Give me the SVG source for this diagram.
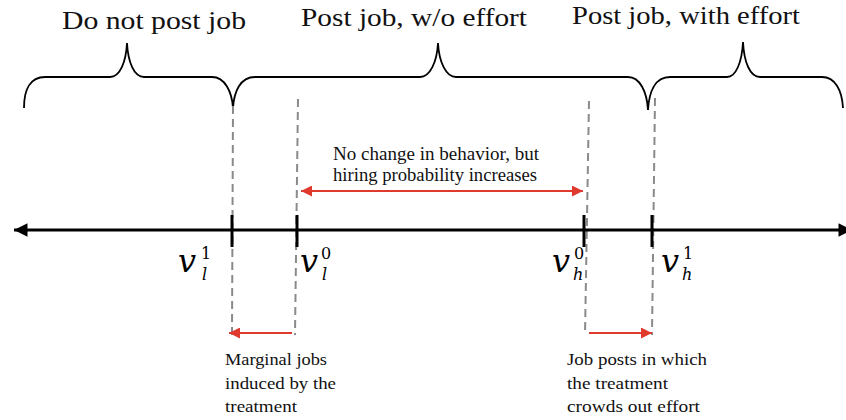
<svg xmlns="http://www.w3.org/2000/svg" width="846" height="420" viewBox="0 0 846 420">
<defs>
<style>
.t{fill:#111}
.hd{font-size:26px}
.sm{font-size:18px}
.bt{font-size:17px}
.m{font-style:italic;fill:#000;font-size:32px}
.up{font-style:normal}
.brace{fill:none;stroke:#000;stroke-width:1.8}
.dash{stroke:#8a8a8a;stroke-width:2;stroke-dasharray:8 5;fill:none}
.tick{stroke:#000;stroke-width:3}
.red{stroke:#e03a2e;stroke-width:2.2;fill:none}
</style>
<marker id="ar" viewBox="0 0 10 10" refX="10" refY="5" markerWidth="5" markerHeight="5" orient="auto-start-reverse" markerUnits="strokeWidth"><path d="M0,0 L10,5 L0,10 z" fill="#e03a2e"/></marker>
<marker id="ak" viewBox="0 0 10 10" refX="10" refY="5" markerWidth="5" markerHeight="4.5" orient="auto-start-reverse" markerUnits="strokeWidth"><path d="M0,0 L10,5 L0,10 z" fill="#000"/></marker>
</defs>

<g id="braces">
<path class="brace" d="M24,108 C24,90 30,77 45,77 L110,77 C120,77 126,62 127,43 C128,62 134,77 144,77 L212,77 C225,77 232,92 233,108"/>
<path class="brace" d="M233,108 C234,92 240,77 255,77 L420,77 C430,77 437,62 438,43 C439,62 446,77 456,77 L628,77 C640,77 647,92 648,110"/>
<path class="brace" d="M648,110 C649,92 655,77 670,77 L727,77 C736,77 742,62 743,42 C744,62 750,77 760,77 L822,77 C835,77 842,90 843,108"/>
</g>

<g id="region-labels" font-family="Liberation Serif, Times New Roman, serif">
<text class="t hd" x="62" y="29" textLength="184" lengthAdjust="spacingAndGlyphs">Do not post job</text>
<text class="t hd" x="301" y="26" textLength="226" lengthAdjust="spacingAndGlyphs">Post job, w/o effort</text>
<text class="t hd" x="572" y="24" textLength="228" lengthAdjust="spacingAndGlyphs">Post job, with effort</text>
</g>

<g id="connectors">
<line class="dash" x1="233" y1="106" x2="232" y2="335"/>
<line class="dash" x1="298" y1="99" x2="295" y2="335"/>
<line class="dash" x1="589" y1="101" x2="585" y2="335"/>
<line class="dash" x1="655" y1="98" x2="652" y2="335"/>
<line x1="14" y1="230" x2="852" y2="230" stroke="#000" stroke-width="3" marker-start="url(#ak)" marker-end="url(#ak)"/>
<line class="red" x1="301" y1="191" x2="583" y2="191" marker-start="url(#ar)" marker-end="url(#ar)"/>
<line class="red" x1="292" y1="333" x2="229" y2="333" marker-end="url(#ar)"/>
<line class="red" x1="589" y1="333" x2="652" y2="333" marker-end="url(#ar)"/>
</g>

<g id="ticks">
<line class="tick" x1="232" y1="215" x2="232" y2="247"/>
<line class="tick" x1="297" y1="215" x2="297" y2="247"/>
<line class="tick" x1="584" y1="215" x2="584" y2="247"/>
<line class="tick" x1="652" y1="215" x2="652" y2="247"/>
</g>

<g id="math-labels" font-family="DejaVu Serif, Liberation Serif, serif">
<g id="v-l-1"><text class="m" x="178" y="272">v<tspan class="up" font-size="16" x="201" y="259">1</tspan><tspan font-size="16" x="202" y="280">l</tspan></text></g>
<g id="v-l-0"><text class="m" x="300" y="272">v<tspan class="up" font-size="16" x="321" y="259">0</tspan><tspan font-size="16" x="322" y="280">l</tspan></text></g>
<g id="v-h-0"><text class="m" x="552" y="272">v<tspan class="up" font-size="16" x="574" y="259">0</tspan><tspan font-size="16" x="573" y="280">h</tspan></text></g>
<g id="v-h-1"><text class="m" x="661" y="272">v<tspan class="up" font-size="16" x="683" y="259">1</tspan><tspan font-size="16" x="682" y="280">h</tspan></text></g>
</g>

<g id="notes" font-family="Liberation Serif, Times New Roman, serif">
<g id="note-middle">
<text class="t sm" x="333" y="160" textLength="206" lengthAdjust="spacingAndGlyphs">No change in behavior, but</text>
<text class="t sm" x="333" y="181" textLength="204" lengthAdjust="spacingAndGlyphs">hiring probability increases</text>
</g>
<g id="note-left">
<text class="t bt" x="225" y="365" textLength="102" lengthAdjust="spacingAndGlyphs">Marginal jobs</text>
<text class="t bt" x="225" y="389" textLength="111" lengthAdjust="spacingAndGlyphs">induced by the</text>
<text class="t bt" x="225" y="412" textLength="72" lengthAdjust="spacingAndGlyphs">treatment</text>
</g>
<g id="note-right">
<text class="t bt" x="567" y="365" textLength="140" lengthAdjust="spacingAndGlyphs">Job posts in which</text>
<text class="t bt" x="567" y="389" textLength="101" lengthAdjust="spacingAndGlyphs">the treatment</text>
<text class="t bt" x="567" y="412" textLength="133" lengthAdjust="spacingAndGlyphs">crowds out effort</text>
</g>
</g>
</svg>
